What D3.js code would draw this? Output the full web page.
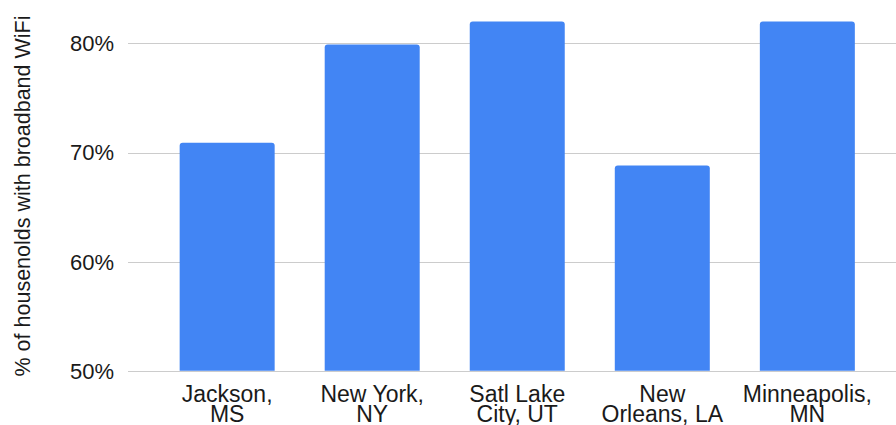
<!DOCTYPE html>
<html><head><meta charset="utf-8">
<script src="https://cdn.jsdelivr.net/npm/d3@7"></script>
<style>body{margin:0;background:#fff}svg{display:block;font-family:"Liberation Sans",Arial,sans-serif}</style>
</head><body><svg id="c" width="896" height="425"></svg>
<script>
const categories = [["Jackson,","MS"],["New York,","NY"],["Satl Lake","City, UT"],["New","Orleans, LA"],["Minneapolis,","MN"]];
const values = [70.9, 79.9, 82.0, 68.8, 82.0];
const yTicks = [50, 60, 70, 80];
const yLabel = "% of housenolds with broadband WiFi";

const svg = d3.select("#c");
const y = d3.scaleLinear().domain([50, 80]).range([370.7, 43.4]);
const x = d3.scaleBand().domain(d3.range(categories.length)).range([155, 879.5]).paddingInner(0.345).paddingOuter(0.17);

// gridlines
svg.append("g").selectAll("line").data(yTicks).join("line")
  .attr("x1", 128).attr("x2", 896)
  .attr("y1", d => Math.round(y(d)) + 0.5).attr("y2", d => Math.round(y(d)) + 0.5)
  .attr("stroke", "#cccccc").attr("stroke-width", 1);

// y tick labels
svg.append("g").selectAll("text").data(yTicks).join("text")
  .attr("x", 114).attr("y", d => y(d)).attr("dy", "0.36em")
  .attr("text-anchor", "end").attr("font-size", 22).attr("fill", "#1a1a1a")
  .text(d => d + "%");

// bars with rounded top corners
const r = 3;
svg.append("g").selectAll("path").data(values).join("path")
  .attr("fill", "#4285f4")
  .attr("d", (d, i) => {
    const x0 = x(i), w = x.bandwidth(), t = y(d), b = y(50);
    return `M${x0},${b}V${t + r}Q${x0},${t} ${x0 + r},${t}H${x0 + w - r}Q${x0 + w},${t} ${x0 + w},${t + r}V${b}Z`;
  });

// category labels
const lab = svg.append("g").selectAll("text").data(categories).join("text")
  .attr("text-anchor", "middle").attr("font-size", 23).attr("fill", "#1a1a1a")
  .attr("x", (d, i) => x(i) + x.bandwidth() / 2).attr("y", 402);
lab.selectAll("tspan").data(d => d).join("tspan")
  .attr("x", function() { return this.parentNode.getAttribute("x"); })
  .attr("dy", (d, j) => j === 0 ? 0 : 20)
  .text(d => d);

// y axis title
svg.append("text")
  .attr("transform", "translate(30,196) rotate(-90)")
  .attr("text-anchor", "middle").attr("font-size", 21.5).attr("fill", "#1a1a1a")
  .text(yLabel);
</script></body></html>
